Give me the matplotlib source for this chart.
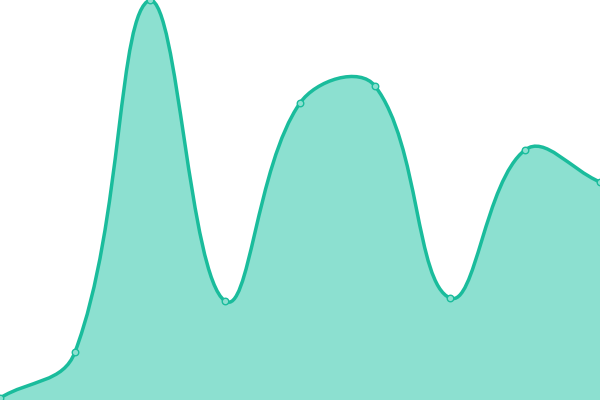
import numpy as np
import matplotlib
matplotlib.use("Agg")
import matplotlib.pyplot as plt
from matplotlib.path import Path
from matplotlib.patches import PathPatch

labels = list(range(9))
values = [2, 48, 400, 99, 297, 314, 102, 250, 218]

W, H = 600, 400
YMAX = 400
fig = plt.figure(figsize=(6, 4), dpi=100)
ax = fig.add_axes([0, 0, 1, 1])
ax.set_xlim(0, len(values) - 1)
ax.set_ylim(0, YMAX)
ax.axis("off")

# pixel-space points (for Chart.js-like spline)
sx = W / (len(values) - 1)
sy = H / YMAX
px = np.array(labels, float) * sx
py = np.array(values, float) * sy
pts = np.stack([px, py], axis=1)
t = 0.4
n = len(pts)
cp_prev = pts.copy()
cp_next = pts.copy()
for i in range(n):
    p0 = pts[max(i - 1, 0)]
    p1 = pts[i]
    p2 = pts[min(i + 1, n - 1)]
    d01 = np.hypot(*(p1 - p0))
    d12 = np.hypot(*(p2 - p1))
    s01 = d01 / (d01 + d12) if d01 + d12 > 0 else 0
    s12 = d12 / (d01 + d12) if d01 + d12 > 0 else 0
    fa = t * s01
    fb = t * s12
    cp_prev[i] = p1 - fa * (p2 - p0)
    cp_next[i] = p1 + fb * (p2 - p0)
# cap to chart area
cp_prev[:, 0] = np.clip(cp_prev[:, 0], 0, W)
cp_next[:, 0] = np.clip(cp_next[:, 0], 0, W)
cp_prev[:, 1] = np.clip(cp_prev[:, 1], 0, H)
cp_next[:, 1] = np.clip(cp_next[:, 1], 0, H)

def to_data(p):
    return (p[0] / sx, p[1] / sy)

verts = [to_data(pts[0])]
codes = [Path.MOVETO]
for i in range(n - 1):
    verts += [to_data(cp_next[i]), to_data(cp_prev[i + 1]), to_data(pts[i + 1])]
    codes += [Path.CURVE4] * 3
line_path = Path(verts, codes)
fill_verts = verts + [(labels[-1], 0), (labels[0], 0), verts[0]]
fill_codes = codes + [Path.LINETO, Path.LINETO, Path.CLOSEPOLY]
fill_path = Path(fill_verts, fill_codes)

ax.add_patch(PathPatch(fill_path, facecolor="#8ce0d0", edgecolor="none"))
ax.add_patch(PathPatch(line_path, facecolor="none", edgecolor="#1abc9c", lw=2.5, capstyle="round"))
ax.scatter(labels, values, s=22, facecolor="#8ce0d0", edgecolor="#1abc9c", linewidths=1, zorder=5, clip_on=True)

fig.savefig("out.png", dpi=100)
